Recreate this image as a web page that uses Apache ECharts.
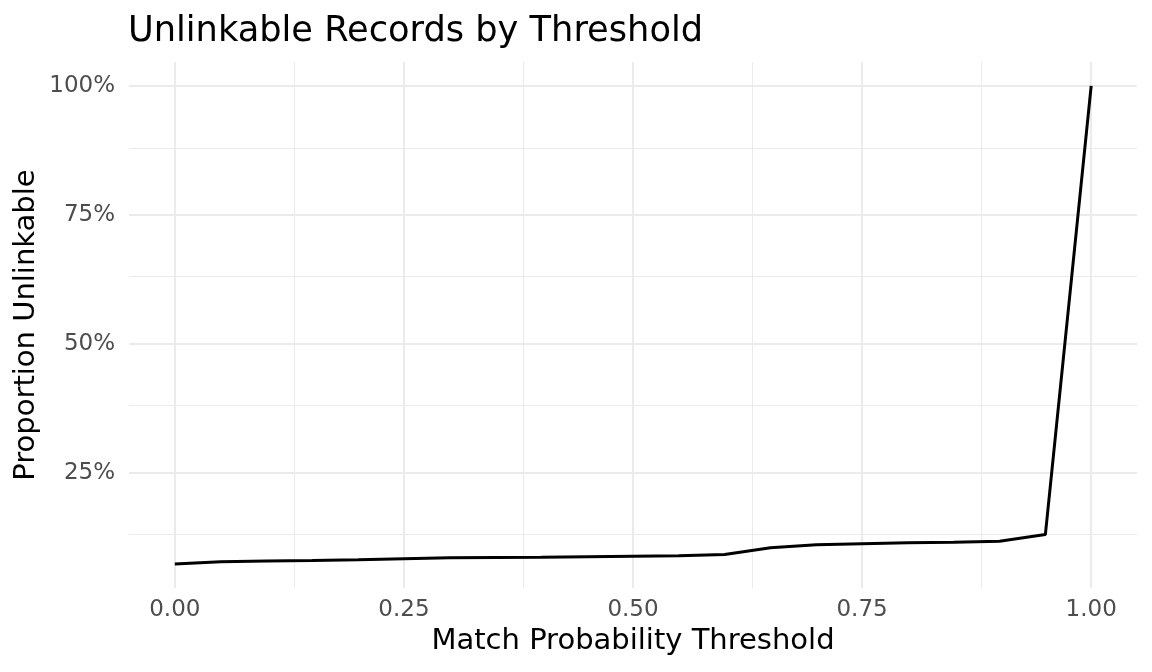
<!DOCTYPE html>
<html>
<head>
<meta charset="utf-8">
<script src="https://cdn.jsdelivr.net/npm/echarts@6/dist/echarts.min.js"></script>
<style>
html,body{margin:0;padding:0;background:#fff;}
#chart{width:1152px;height:672px;}
</style>
</head>
<body>
<div id="chart"></div>
<script>
const thresholds = [0,0.05,0.1,0.15,0.2,0.25,0.3,0.35,0.4,0.45,0.5,0.55,0.6,0.65,0.7,0.75,0.8,0.85,0.9,0.95,1.0];
const unlinkable = [0.0727,0.0774,0.0785,0.0795,0.081,0.083,0.085,0.0855,0.086,0.087,0.088,0.089,0.0915,0.1045,0.110,0.112,0.114,0.115,0.117,0.130,1.0];
const xMajorTicks = [0,0.25,0.5,0.75,1.0];
const xMinorTicks = [0.125,0.375,0.625,0.875];
const yMajorTicks = [0.25,0.5,0.75,1.0];
const yMinorTicks = [0.125,0.375,0.625,0.875];

const xMin = Math.min(...thresholds), xMax = Math.max(...thresholds);
const yMin = Math.min(...unlinkable), yMax = Math.max(...unlinkable);
const xPad = (xMax - xMin) * 0.05, yPad = (yMax - yMin) * 0.05;

const gridMajor = {color:'#EBEBEB', width:2, type:'solid'};
const gridMinor = {color:'#EBEBEB', width:1, type:'solid'};
const markData = [
  ...xMinorTicks.map(v => ({xAxis:v, lineStyle:gridMinor})),
  ...yMinorTicks.map(v => ({yAxis:v, lineStyle:gridMinor})),
  ...xMajorTicks.map(v => ({xAxis:v, lineStyle:gridMajor})),
  ...yMajorTicks.map(v => ({yAxis:v, lineStyle:gridMajor}))
];

const chart = echarts.init(document.getElementById('chart'), null, {renderer:'canvas'});
chart.setOption({
  animation:false,
  backgroundColor:'#ffffff',
  textStyle:{fontFamily:'DejaVu Sans'},
  title:{
    text:'Unlinkable Records by Threshold',
    left:128, top:14, padding:0,
    textStyle:{fontFamily:'DejaVu Sans', fontSize:35.2, fontWeight:'normal', color:'#000000'}
  },
  grid:{left:129, right:15, top:62, bottom:84, containLabel:false},
  xAxis:{
    type:'value', min:xMin - xPad, max:xMax + xPad,
    name:'Match Probability Threshold', nameLocation:'middle', nameGap:39, nameMoveOverlap:false,
    nameTextStyle:{fontFamily:'DejaVu Sans', fontSize:29, color:'#000000'},
    axisLine:{show:false}, axisTick:{show:false}, splitLine:{show:false},
    axisLabel:{customValues:xMajorTicks, margin:11, fontSize:23, color:'#4D4D4D', fontFamily:'DejaVu Sans',
      formatter:v => v.toFixed(2)}
  },
  yAxis:{
    type:'value', min:yMin - yPad, max:yMax + yPad,
    name:'Proportion Unlinkable', nameLocation:'middle', nameGap:88, nameMoveOverlap:false,
    nameTextStyle:{fontFamily:'DejaVu Sans', fontSize:29, color:'#000000'},
    axisLine:{show:false}, axisTick:{show:false}, splitLine:{show:false},
    axisLabel:{customValues:yMajorTicks, margin:14, fontSize:23, color:'#4D4D4D', fontFamily:'DejaVu Sans',
      formatter:v => Math.round(v*100) + '%'}
  },
  series:[
    {
      type:'line', data:[], silent:true, z:1,
      markLine:{silent:true, symbol:['none','none'], label:{show:false}, animation:false, data:markData}
    },
    {
      type:'line', z:5,
      data:thresholds.map((t,i) => [t, unlinkable[i]]),
      showSymbol:false, symbol:'none',
      lineStyle:{color:'#000000', width:3},
      silent:true
    }
  ]
});
</script>
</body>
</html>
